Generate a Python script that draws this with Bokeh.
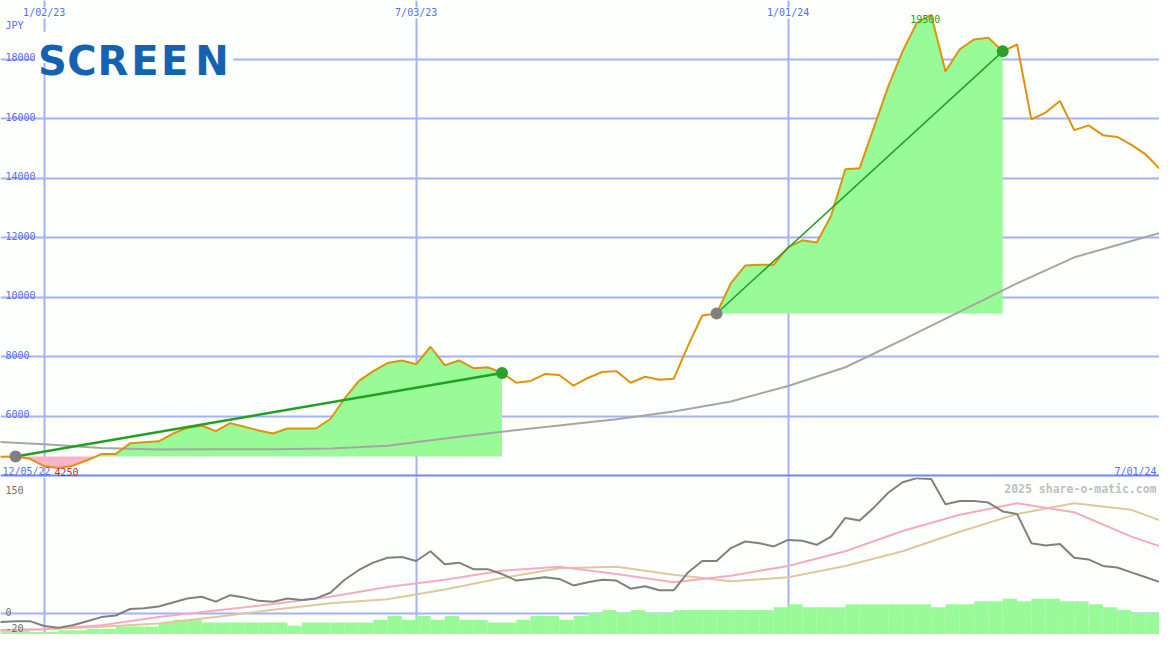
import numpy as np
import pandas as pd
from bokeh.plotting import figure
from bokeh.layouts import column
from bokeh.models import Range1d, Grid, FixedTicker, Label, Span, BoxAnnotation
from bokeh.embed import file_html
from bokeh.resources import INLINE

# ---------------- data (weekly, Mondays) ----------------
first_week = "2022-12-05"
price = [4630, 4630, 4640, 4560, 4310, 4250, 4330, 4510, 4720, 4720,
         5080, 5120, 5150, 5410, 5600, 5680, 5490, 5760, 5640, 5510,
         5410, 5580, 5580, 5580, 5900, 6590, 7180, 7510, 7780, 7870,
         7740, 8330, 7710, 7870, 7610, 7640, 7450, 7120, 7180, 7410,
         7380, 7020, 7280, 7480, 7510, 7120, 7320, 7220, 7250, 8360,
         9380, 9450, 10470, 11060, 11090, 11090, 11680, 11910, 11840, 12730,
         14300, 14340, 15720, 17090, 18270, 19230, 19500, 17590, 18340, 18670,
         18730, 18270, 18500, 15980, 16210, 16600, 15620, 15780, 15450, 15390,
         15120, 14800, 14300]
ma_weeks = [0, 4, 8, 12, 16, 20, 24, 28, 32, 36, 40, 44, 48, 52, 56, 60, 64, 68, 72, 76, 80, 82]
price_ma = [5150, 5050, 4920, 4870, 4880, 4880, 4910, 5000, 5240, 5470, 5680,
            5890, 6150, 6490, 7010, 7640, 8560, 9510, 10460, 11340, 11890, 12160]
momentum = [-11, -11, -10, -10, -16, -18, -15, -10, -5, -3,
            5, 6, 8, 13, 18, 20, 14, 22, 19, 15,
            14, 18, 16, 18, 25, 41, 53, 62, 68, 69,
            64, 76, 60, 62, 54, 54, 48, 40, 42, 44,
            42, 34, 38, 41, 40, 30, 33, 28, 28, 50,
            64, 64, 80, 88, 86, 82, 90, 89, 84, 94,
            117, 114, 130, 148, 161, 166, 165, 134, 138, 138,
            136, 125, 122, 86, 83, 85, 68, 66, 58, 56,
            50, 44, 38]
mom_fast = [-21, -20, -15, -5, 3, 11, 20, 32, 41, 52, 57,
            48, 38, 46, 58, 76, 101, 121, 135, 124, 94, 82]
mom_slow = [-22, -20, -17, -13, -5, 4, 12, 17, 29, 43, 55,
            57, 47, 39, 44, 58, 76, 100, 122, 135, 127, 114]
volume = [43, 43, 43, 25, 25, 43, 43, 60, 60, 83,
          83, 83, 117, 150, 150, 123, 123, 123, 123, 123,
          123, 90, 123, 123, 123, 123, 123, 150, 190, 150,
          190, 150, 190, 150, 150, 123, 123, 150, 190, 190,
          150, 190, 223, 250, 223, 250, 223, 223, 250, 250,
          250, 250, 250, 250, 250, 280, 310, 280, 280, 280,
          310, 310, 310, 310, 310, 310, 280, 310, 310, 340,
          340, 367, 340, 367, 367, 340, 340, 310, 280, 250,
          223, 223]
grid_dates = ["2023-01-02", "2023-07-03", "2024-01-01", "2024-07-01"]
price_ticks = [6000, 8000, 10000, 12000, 14000, 16000, 18000]
mom_ticks = [150, 0, -20]
buy_weeks = [2, 51]
sell_weeks = [36, 71]
currency = "JPY"
company = "SCREEN"
credit = "2025 share-o-matic.com"
view = ("2022-12-11 15:00", "2024-06-30 17:00")

# ---------------- styling ----------------
W, H1, H2 = 1159, 477, 157
RW, RH1, RH2 = 1175, 489, 161
BG = "#fcfffc"
GRID = "#a4b2f6"
BLUE = "#5a6cf0"
SEP = "#7385f0"
PRICE_C = "#e0920c"
GAIN = "#98fb98"
LOSS = "#f8b4c8"
MA_C = "#a6a6a6"
TREND = "#22a022"
MONO = "DejaVu Sans Mono"


def sx(xr):
    return xr * W / RW


def sy1(yr):
    return H1 - yr * H1 / RH1


def sy2(yr):
    return H2 - (yr - RH1) * H2 / RH2


def to_ms(d):
    return pd.Timestamp(d).value / 1e6


def fmt(ts):
    ts = pd.Timestamp(ts)
    return f"{ts.month}/{ts.day:02d}/{ts.year % 100:02d}"


dates = pd.date_range(first_week, periods=len(price), freq="7D")
xs = dates.values.astype("datetime64[ms]").astype(np.int64).astype(float)
grid_ms = [to_ms(d) for d in grid_dates]
x0, x1 = to_ms(view[0]), to_ms(view[1])


def split(sx_, sy_, base):
    px, py = [sx_[0]], [sy_[0]]
    for i in range(1, len(sx_)):
        a, b = sy_[i - 1] - base, sy_[i] - base
        if a * b < 0:
            t = a / (a - b)
            px.append(sx_[i - 1] + t * (sx_[i] - sx_[i - 1]))
            py.append(base)
        px.append(sx_[i])
        py.append(sy_[i])
    return np.array(px), np.array(py, dtype=float)


def make_fig(h, yr):
    p = figure(width=W, height=h, x_axis_type="datetime", x_axis_location=None,
               y_axis_location=None, x_range=Range1d(x0, x1), y_range=yr,
               toolbar_location=None, output_backend="svg", min_border=0,
               background_fill_color=BG, border_fill_color=BG, outline_line_color=None)
    p.grid.visible = False
    return p


# ---------------- top panel ----------------
p1 = make_fig(H1, Range1d(3931, 19980))
p1.add_layout(Grid(dimension=0, ticker=FixedTicker(ticks=grid_ms),
                   grid_line_color=GRID, grid_line_width=2))
p1.add_layout(Grid(dimension=1, ticker=FixedTicker(ticks=price_ticks),
                   grid_line_color=GRID, grid_line_width=2))

for b, s in zip(buy_weeks, sell_weeks):
    base = price[b]
    fx, fy = split(xs[b:s + 1], price[b:s + 1], base)
    p1.varea(x=fx, y1=base, y2=np.maximum(fy, base), fill_color=GAIN)
    p1.varea(x=fx, y1=base, y2=np.minimum(fy, base), fill_color=LOSS)

p1.line(xs[ma_weeks], price_ma, line_color=MA_C, line_width=2)
p1.line(xs, price, line_color=PRICE_C, line_width=2)
for (b, s), w in zip(zip(buy_weeks, sell_weeks), [2.5, 1.5]):
    p1.line([xs[b], xs[s]], [price[b], price[s]], line_color=TREND, line_width=w)
p1.scatter(xs[buy_weeks], [price[i] for i in buy_weeks], size=12,
           fill_color="#808080", line_color=None)
p1.scatter(xs[sell_weeks], [price[i] for i in sell_weeks], size=12,
           fill_color="#2aa02a", line_color=None)

p1.add_layout(Span(location=3998, dimension="width", line_color=SEP, line_width=2))

for t in price_ticks:
    p1.add_layout(Label(x=sx(5), x_units="screen", y=t, y_offset=2, text=str(t),
                        text_font=MONO, text_font_size="10px", text_color=BLUE,
                        text_baseline="alphabetic"))
for d, m in zip(grid_dates, grid_ms):
    if x0 <= m <= x1:
        p1.add_layout(Label(x=m, y=sy1(12.7), y_units="screen", text=fmt(d),
                            text_font=MONO, text_font_size="10px", text_color=BLUE,
                            text_align="center", text_baseline="alphabetic",
                            background_fill_color=BG))
p1.add_layout(Label(x=sx(5), y=sy1(25.5), x_units="screen", y_units="screen", text=currency,
                    text_font=MONO, text_font_size="10px", text_color=BLUE,
                    text_baseline="alphabetic"))
p1.add_layout(Label(x=sx(2), y=sy1(483.3), x_units="screen", y_units="screen",
                    text=fmt(dates[0]), text_font=MONO, text_font_size="10px",
                    text_color=BLUE, text_baseline="alphabetic"))
p1.add_layout(Label(x=W - sx(3), y=sy1(483.3), x_units="screen", y_units="screen",
                    text=fmt(dates[-1]), text_font=MONO, text_font_size="10px",
                    text_color=BLUE, text_align="right", text_baseline="alphabetic"))
lo = int(np.argmin(price))
hi = int(np.argmax(price))
p1.add_layout(Label(x=xs[lo], y=sy1(483.3), y_units="screen", x_offset=-4,
                    text=str(price[lo]), text_font=MONO, text_font_size="10px",
                    text_color="#b03030", text_baseline="alphabetic"))
p1.add_layout(Label(x=xs[hi], y=price[hi], x_offset=-6, text=str(price[hi]),
                    text_font=MONO, text_font_size="10px", text_color="#22a022",
                    text_align="center", text_baseline="top"))

# logo
p1.add_layout(BoxAnnotation(left=sx(35), right=sx(236), bottom=sy1(64), top=sy1(32),
                            left_units="screen", right_units="screen",
                            bottom_units="screen", top_units="screen",
                            fill_color=BG, fill_alpha=1.0, line_color=None))
letter_centers = [52.5, 82.5, 114, 146.5, 176.5, 214.5]
for ch, cx in zip(company, letter_centers):
    p1.add_layout(Label(x=sx(cx), y=sy1(62), x_units="screen", y_units="screen", text=ch,
                        text_font="DejaVu Sans", text_font_style="bold",
                        text_font_size="40px", text_color="#1462b2",
                        text_align="center", text_baseline="alphabetic"))

# ---------------- bottom panel ----------------
p2 = make_fig(H2, Range1d(-26.4, 166.8))
p2.x_range = p1.x_range
p2.extra_y_ranges = {"vol": Range1d(0, 1610)}
p2.add_layout(Grid(dimension=0, ticker=FixedTicker(ticks=grid_ms),
                   grid_line_color=GRID, grid_line_width=2))
p2.add_layout(Grid(dimension=1, ticker=FixedTicker(ticks=[0]),
                   grid_line_color=GRID, grid_line_width=2))
p2.quad(left=xs[:len(volume)], right=xs[1:len(volume) + 1], bottom=0, top=volume,
        y_range_name="vol", fill_color=GAIN, line_color=None)
p2.line(xs[ma_weeks], mom_slow, line_color="#dfc89c", line_width=2)
p2.line(xs[ma_weeks], mom_fast, line_color="#f6aac4", line_width=2)
p2.line(xs, momentum, line_color="#808080", line_width=2)

for t in mom_ticks:
    p2.add_layout(Label(x=sx(5), x_units="screen", y=t, y_offset=1, text=str(t),
                        text_font=MONO, text_font_size="10px", text_color="#707070",
                        text_baseline="alphabetic"))
p2.add_layout(Label(x=W - sx(3), y=sy2(500.5), x_units="screen", y_units="screen",
                    text=credit, text_font=MONO, text_font_size="11.5px",
                    text_font_style="bold", text_color="#c0c0c0",
                    text_align="right", text_baseline="alphabetic"))

layout = column(p1, p2)
open("out.html", "w").write(file_html(layout, INLINE))
